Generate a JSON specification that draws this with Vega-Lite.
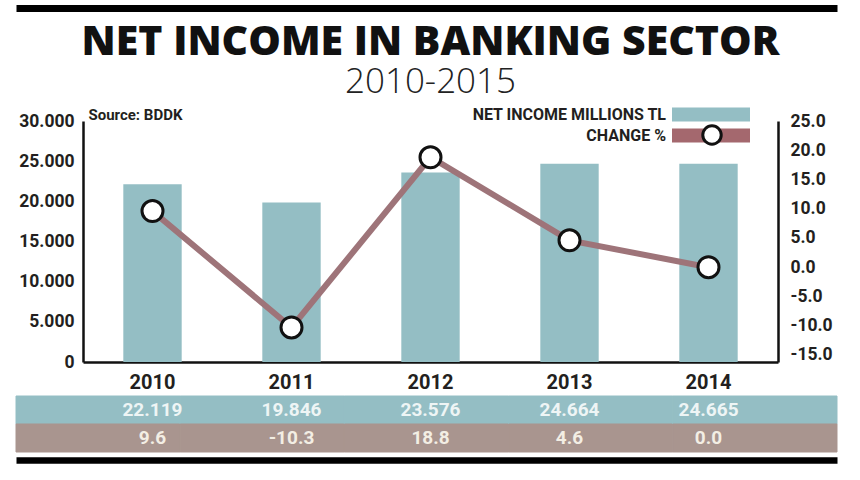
{
  "$schema": "https://vega.github.io/schema/vega-lite/v6.json",
  "width": 695,
  "height": 241,
  "autosize": {"type": "none"},
  "padding": {"left": 83, "top": 121, "right": 82, "bottom": 118},
  "background": "white",
  "config": {
    "locale": {"number": {"decimal": ".", "thousands": ".", "grouping": [3], "currency": ["", ""], "minus": "-"}},
    "view": {"stroke": null},
    "font": "Roboto, DejaVu Sans, sans-serif",
    "axis": {
      "grid": false,
      "ticks": false,
      "labelFont": "Roboto, DejaVu Sans, sans-serif",
      "labelFontWeight": "bold",
      "labelColor": "#231f20",
      "domainColor": "#111111"
    }
  },
  "title": {
    "text": "NET INCOME IN BANKING SECTOR",
    "subtitle": "2010-2015",
    "font": "Open Sans",
    "fontSize": 41,
    "fontWeight": 800,
    "color": "#111111",
    "subtitleFont": "Open Sans",
    "subtitleFontSize": 35,
    "subtitleFontWeight": 300,
    "subtitleColor": "#222222",
    "subtitlePadding": 1,
    "anchor": "middle",
    "frame": "group",
    "offset": -93
  },
  "data": {
    "values": [
      {"year": "2010", "income": 22119, "change": 9.6},
      {"year": "2011", "income": 19846, "change": -10.3},
      {"year": "2012", "income": 23576, "change": 18.8},
      {"year": "2013", "income": 24664, "change": 4.6},
      {"year": "2014", "income": 24665, "change": 0.0}
    ]
  },
  "layer": [
    {
      "mark": {"type": "bar"},
      "encoding": {
        "x": {
          "field": "year", "type": "ordinal",
          "scale": {"type": "band", "paddingInner": 0.58, "paddingOuter": 0.29},
          "axis": {"title": null, "labelAngle": 0, "labelFontSize": 20, "labelPadding": 10, "domainWidth": 2.5}
        },
        "y": {
          "field": "income", "type": "quantitative",
          "scale": {"domain": [0, 30000], "nice": false},
          "axis": {
            "title": "Source: BDDK", "titleAngle": 0, "titleX": 5, "titleY": -2,
            "titleAlign": "left", "titleBaseline": "alphabetic",
            "titleFont": "Roboto, DejaVu Sans, sans-serif",
            "titleFontSize": 15, "titleFontWeight": "bold", "titleColor": "#231f20",
            "values": [0, 5000, 10000, 15000, 20000, 25000, 30000],
            "format": ",d", "labelFontSize": 17.5, "labelPadding": 9, "domainWidth": 2.5
          }
        },
        "fill": {
          "datum": "NET INCOME MILLIONS TL",
          "scale": {"range": ["#94bec4"]},
          "legend": {
            "orient": "none", "legendX": 589, "legendY": -45.5, "title": null, "padding": 0,
            "symbolType": "M-1,-0.18H1V0.18H-1Z", "symbolSize": 6084, "symbolStrokeWidth": 0,
            "labelAlign": "right", "labelOffset": -84, "labelLimit": 400,
            "labelFont": "Roboto, DejaVu Sans, sans-serif",
            "labelFontWeight": "bold", "labelFontSize": 16, "labelColor": "#231f20"
          }
        }
      }
    },
    {
      "encoding": {
        "x": {
          "field": "year", "type": "ordinal",
          "scale": {"type": "band", "paddingInner": 0.58, "paddingOuter": 0.29},
          "axis": null
        },
        "y": {
          "field": "change", "type": "quantitative",
          "scale": {"domain": [-16.2, 25], "nice": false, "zero": false},
          "axis": {
            "orient": "right", "title": null,
            "values": [-15, -10, -5, 0, 5, 10, 15, 20, 25],
            "format": ".1f", "labelFontSize": 17.5, "labelPadding": 12, "domainWidth": 2.5
          }
        }
      },
      "layer": [
        {
          "mark": {"type": "line", "strokeWidth": 6},
          "encoding": {
            "stroke": {
              "datum": "CHANGE %",
              "scale": {"range": ["#9e7479"]},
              "legend": {
                "orient": "none", "legendX": 589, "legendY": -24.5, "title": null, "padding": 0,
                "symbolType": "M-1,-0.18H1V0.18H-1Z", "symbolSize": 6084, "symbolStrokeWidth": 0,
                "symbolFillColor": "#a4686e",
                "labelAlign": "right", "labelOffset": -84, "labelLimit": 400,
                "labelFont": "Roboto, DejaVu Sans, sans-serif",
                "labelFontWeight": "bold", "labelFontSize": 16, "labelColor": "#231f20"
              }
            }
          }
        },
        {
          "mark": {"type": "point", "shape": "circle", "filled": true, "fill": "white", "strokeWidth": 3, "size": 441, "opacity": 1},
          "encoding": {
            "stroke": {
              "datum": "change marker",
              "scale": {"range": ["#111111"]},
              "legend": {
                "orient": "none", "legendX": 618, "legendY": 3, "title": null, "padding": 0,
                "symbolType": "circle", "symbolSize": 340, "symbolFillColor": "white",
                "symbolStrokeWidth": 3, "symbolOpacity": 1, "labelExpr": "''", "labelFontSize": 1
              }
            }
          }
        }
      ],
      "resolve": {"scale": {"stroke": "independent"}}
    },
    {
      "transform": [{"fold": ["income", "change"], "as": ["row", "value"]}],
      "mark": {"type": "rect", "strokeWidth": 1},
      "encoding": {
        "x": {
          "field": "year", "type": "ordinal",
          "scale": {"type": "band", "range": [-67, 754], "paddingInner": 0, "paddingOuter": 0},
          "axis": {"orient": "bottom", "offset": 98, "labels": false, "ticks": false, "title": null, "domainWidth": 6.6, "domainColor": "#000000"}
        },
        "y": {
          "field": "row", "type": "nominal", "sort": ["income", "change"],
          "scale": {"type": "band", "range": [275, 331], "paddingInner": 0, "paddingOuter": 0},
          "axis": null
        },
        "fill": {"condition": {"test": "datum.row === 'income'", "value": "#94bec4"}, "value": "#a9958f"},
        "stroke": {"condition": {"test": "datum.row === 'income'", "value": "#94bec4"}, "value": "#a9958f"}
      }
    },
    {
      "encoding": {
        "x": {
          "field": "year", "type": "ordinal",
          "scale": {"type": "band", "range": [-67, 754], "paddingInner": 0, "paddingOuter": 0.453, "align": 0.5317},
          "axis": {"orient": "top", "offset": 113, "labels": false, "ticks": false, "title": null, "domainWidth": 7, "domainColor": "#000000"}
        }
      },
      "layer": [
        {
          "mark": {"type": "text", "font": "Roboto, DejaVu Sans, sans-serif", "fontWeight": "bold", "fontSize": 19, "color": "#eef5f5"},
          "encoding": {
            "y": {"datum": "income", "type": "nominal", "scale": {"type": "band", "domain": ["income", "change"], "range": [275, 331], "paddingInner": 0, "paddingOuter": 0}, "axis": null},
            "text": {"field": "income", "type": "quantitative", "format": ",d"}
          }
        },
        {
          "mark": {"type": "text", "font": "Roboto, DejaVu Sans, sans-serif", "fontWeight": "bold", "fontSize": 19, "color": "#f3eee4"},
          "encoding": {
            "y": {"datum": "change", "type": "nominal"},
            "text": {"field": "change", "type": "quantitative", "format": ".1f"}
          }
        }
      ]
    }
  ],
  "resolve": {"scale": {"x": "independent", "y": "independent", "fill": "independent", "stroke": "independent", "shape": "independent"}}
}
